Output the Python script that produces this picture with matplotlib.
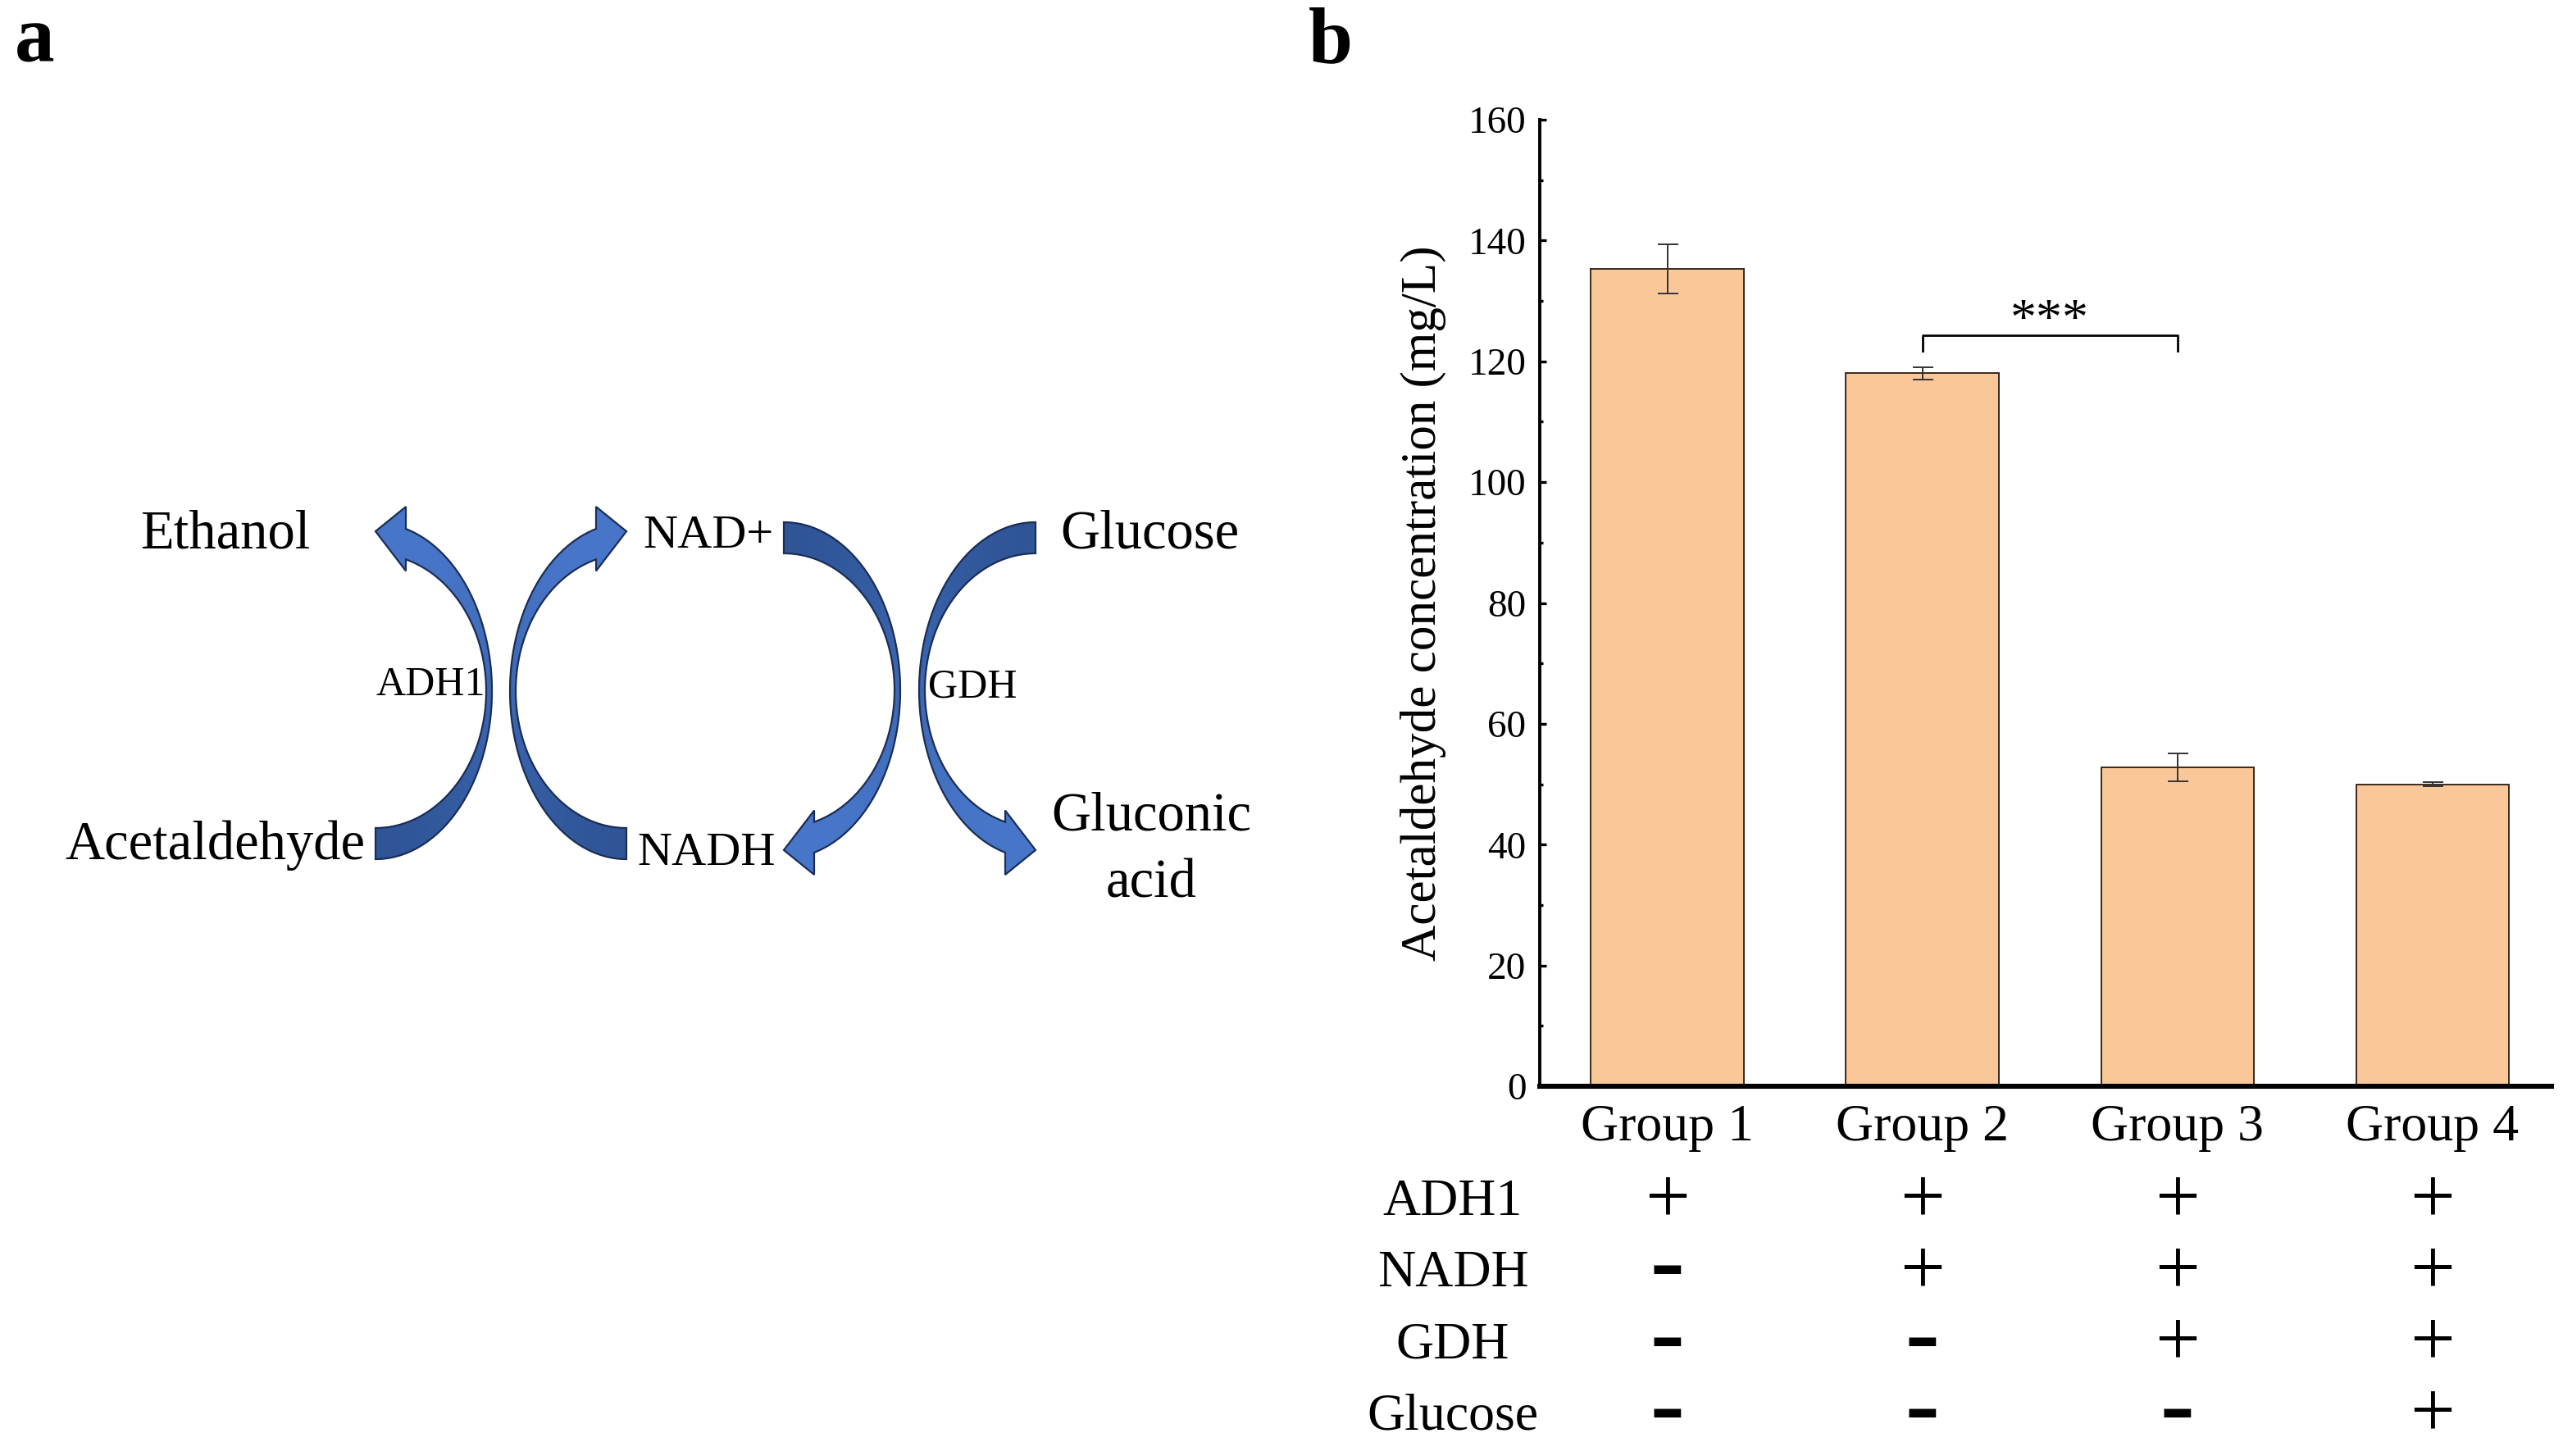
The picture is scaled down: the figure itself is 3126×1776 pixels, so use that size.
import numpy as np
import matplotlib
matplotlib.use("Agg")
import matplotlib.pyplot as plt
from matplotlib.patches import Polygon
from matplotlib.ticker import MultipleLocator
import matplotlib.transforms as mtransforms

plt.rcParams['font.family'] = ['Liberation Serif', 'DejaVu Serif']

# ---------------- data ----------------
groups = ["Group 1", "Group 2", "Group 3", "Group 4"]
concentration = [135.3, 118.0, 52.8, 50.0]
conc_err = [4.1, 1.0, 2.25, 0.3]
yticks = [0, 20, 40, 60, 80, 100, 120, 140, 160]
components = ["ADH1", "NADH", "GDH", "Glucose"]
presence = [["+", "+", "+", "+"],
            ["-", "+", "+", "+"],
            ["-", "-", "+", "+"],
            ["-", "-", "-", "+"]]
sig_pair = (1, 2)
sig_label = "***"

# ---------------- figure ----------------
W, H = 3126, 1776
DPI = 200
fig = plt.figure(figsize=(W / DPI, H / DPI), dpi=DPI)
fig.patch.set_facecolor('white')

# image-pixel transform (y downward)
px = mtransforms.Affine2D().scale(1 / W, -1 / H).translate(0, 1) + fig.transFigure

# ---------------- panel a (scheme) ----------------
axa = fig.add_axes([0, 0, 1, 1], zorder=0)
axa.set_xlim(0, W)
axa.set_ylim(H, 0)
axa.axis('off')

DARK = np.array([0x2F, 0x55, 0x97]) / 255
LIGHT = np.array([0x47, 0x75, 0xC8]) / 255
EDGE = '#1B2E55'


def curved_arrow(ax, cx, cy, sx, sy, ao=142, bo=205, ai=135, bi=167, dx=37, n=90):
    po_end = -np.arccos(dx / ao)
    pi_end = -np.arccos(dx / ai)
    s = np.linspace(0, 1, n)
    po = np.pi / 2 + s * (po_end - np.pi / 2)
    pin = np.pi / 2 + s * (pi_end - np.pi / 2)
    ox = cx + sx * ao * np.cos(po)
    oy = cy + sy * bo * np.sin(po)
    ix = cx + sx * ai * np.cos(pin)
    iy = cy + sy * bi * np.sin(pin)
    for k in range(n - 1):
        t = (s[k] + s[k + 1]) / 2
        w = t * t * (3 - 2 * t)
        col = DARK * (1 - w) + LIGHT * w
        poly = [(ox[k], oy[k]), (ox[k + 1], oy[k + 1]), (ix[k + 1], iy[k + 1]), (ix[k], iy[k])]
        ax.add_patch(Polygon(poly, closed=True, facecolor=col, edgecolor=col, lw=0.4))
    bx = cx + sx * dx
    yo, yi = oy[-1], iy[-1]
    head = [(bx, yo), (bx, yo - sy * 27), (cx, yo + sy * 3), (bx, yi + sy * 14), (bx, yi)]
    ax.add_patch(Polygon(head, closed=True, facecolor=LIGHT, edgecolor=LIGHT, lw=0.4))
    outline = list(zip(ox, oy)) + head[1:4] + list(zip(ix[::-1], iy[::-1]))
    ax.add_patch(Polygon(outline, closed=True, facecolor='none', edgecolor=EDGE,
                         lw=0.8, joinstyle='miter'))


curved_arrow(axa, 458, 843, +1, +1)
curved_arrow(axa, 764, 843, -1, +1)
curved_arrow(axa, 956, 842, +1, -1)
curved_arrow(axa, 1263, 842, -1, -1)

big = 24
mid = 21
small = 18
axa.text(275, 668, "Ethanol", fontsize=big, ha='center', va='baseline')
axa.text(262, 1048, "Acetaldehyde", fontsize=big, ha='center', va='baseline')
axa.text(864, 668, "NAD+", fontsize=mid, ha='center', va='baseline')
axa.text(862, 1055, "NADH", fontsize=mid, ha='center', va='baseline')
axa.text(1402, 668, "Glucose", fontsize=big, ha='center', va='baseline')
axa.text(1404, 1012, "Gluconic", fontsize=big, ha='center', va='baseline')
axa.text(1404, 1094, "acid", fontsize=big, ha='center', va='baseline')
axa.text(525, 848, "ADH1", fontsize=small, ha='center', va='baseline')
axa.text(1186, 850, "GDH", fontsize=small, ha='center', va='baseline')

axa.text(18, 75, "a", fontsize=35, fontweight='bold', ha='left', va='baseline')
axa.text(1596, 76, "b", fontsize=35, fontweight='bold', ha='left', va='baseline')

# ---------------- panel b (bar chart) ----------------
left_px, right_px, y0_px, ytop_px = 1878, 3112, 1325, 146
ax = fig.add_axes([left_px / W, (H - y0_px) / H, (right_px - left_px) / W, (y0_px - ytop_px) / H],
                  zorder=2)
ax.patch.set_alpha(0)
x = np.arange(len(groups))
ax.bar(x, concentration, width=0.6, color='#FAC898', edgecolor='#3A2A1C', linewidth=0.7, zorder=2)
ax.errorbar(x, concentration, yerr=conc_err, fmt='none', ecolor='#333333', elinewidth=0.7,
            capsize=4.5, capthick=0.7, zorder=3)
ax.set_xlim(-0.5, 3.466)
ax.set_ylim(0, 160)
ax.set_yticks(yticks)
ax.yaxis.set_minor_locator(MultipleLocator(10))
ax.tick_params(axis='y', which='major', direction='in', length=3, width=1.2, labelsize=17, pad=6)
ax.tick_params(axis='y', which='minor', direction='in', length=1.3, width=1.2)
ax.set_xticks(x)
ax.set_xticklabels(groups)
ax.tick_params(axis='x', length=0, labelsize=23, pad=8)
for sp in ['top', 'right']:
    ax.spines[sp].set_visible(False)
ax.spines['left'].set_linewidth(1.4)
ax.spines['bottom'].set_linewidth(2.2)
ax.set_ylabel('Acetaldehyde concentration (mg/L)', fontsize=22)
ax.yaxis.set_label_coords((1736 - left_px) / (right_px - left_px), 0.5)
ax.yaxis.label.set_va('center')

# significance bracket
i, j = sig_pair
yb = concentration[i] + conc_err[i] + 5.3
ax.plot([i, i, j, j], [yb - 2.6, yb, yb, yb - 2.6], color='black', lw=1.0, zorder=4)
ax.text((i + j) / 2, yb + 0.1, sig_label, ha='center', va='baseline', fontsize=23)

# condition table
tr = mtransforms.blended_transform_factory(ax.transData, px)
row0, drow = 1466, 87.3
for r, comp in enumerate(components):
    cy = row0 + r * drow
    fig.text(1772, cy + 16, comp, transform=px, fontsize=23, ha='center', va='baseline')
    for c, sign in enumerate(presence[r]):
        if sign == "+":
            fig.text(x[c], cy + 24, "+", transform=tr, fontsize=35, ha='center', va='baseline')
        else:
            fig.text(x[c], cy - 5 + 24, "\u2013", transform=tr, fontsize=30, ha='center',
                     va='baseline', family='DejaVu Sans', fontweight='bold')

fig.savefig('out.png', dpi=DPI)
